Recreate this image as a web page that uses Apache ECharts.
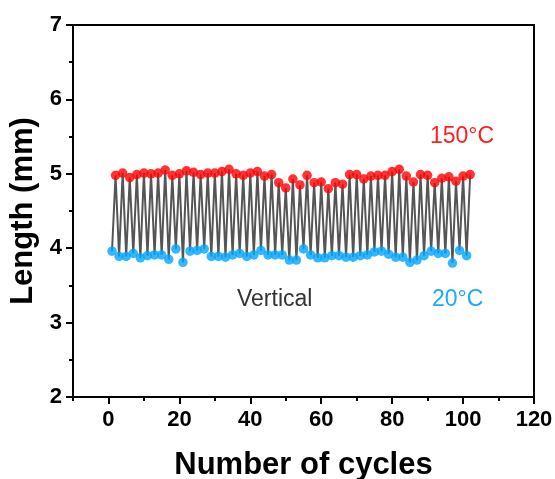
<!DOCTYPE html>
<html>
<head>
<meta charset="utf-8">
<script src="https://cdn.jsdelivr.net/npm/echarts@6/dist/echarts.min.js"></script>
<style>html,body{margin:0;padding:0;background:#fff}#c{width:555px;height:479px}</style>
</head>
<body>
<div id="c"></div>
<script>
// Cycle numbers (x) for each state
const lowCycles = [1,3,5,7,9,11,13,15,17,19,21,23,25,27,29,31,33,35,37,39,41,43,45,47,49,51,53,55,57,59,61,63,65,67,69,71,73,75,77,79,81,83,85,87,89,91,93,95,97,99,101];
const highCycles = [2,4,6,8,10,12,14,16,18,20,22,24,26,28,30,32,34,36,38,40,42,44,46,48,50,52,54,56,58,60,62,64,66,68,70,72,74,76,78,80,82,84,86,88,90,92,94,96,98,100,102];
// Length (mm) at 20°C
const lowLength = [3.96,3.89,3.89,3.93,3.87,3.90,3.91,3.91,3.85,3.99,3.81,3.96,3.97,3.99,3.89,3.89,3.88,3.91,3.93,3.89,3.91,3.97,3.91,3.91,3.91,3.84,3.84,3.99,3.91,3.87,3.87,3.90,3.90,3.88,3.88,3.90,3.91,3.95,3.96,3.92,3.88,3.88,3.81,3.84,3.90,3.96,3.93,3.93,3.80,3.97,3.90];
// Length (mm) at 150°C
const highLength = [4.98,5.01,4.95,4.99,5.01,5.00,5.01,5.05,4.98,5.00,5.04,5.02,4.99,5.01,5.01,5.03,5.06,5.00,4.98,5.01,5.03,4.97,4.99,4.88,4.81,4.93,4.85,4.98,4.88,4.89,4.80,4.88,4.86,4.99,4.99,4.93,4.97,4.98,4.98,5.03,5.06,4.97,4.89,4.99,4.98,4.88,4.94,4.96,4.90,4.97,4.99];
const xMajorTicks = [0,20,40,60,80,100,120];
const xMinorTicks = [-10,10,30,50,70,90,110];

const lowPts = lowCycles.map((c,i)=>[c,lowLength[i]]);
const highPts = highCycles.map((c,i)=>[c,highLength[i]]);
const zig = [];
for (let i=0;i<lowPts.length;i++){ zig.push(lowPts[i]); zig.push(highPts[i]); }

const FONT = '"Liberation Sans", Arial, sans-serif';
const chart = echarts.init(document.getElementById('c'), null, {renderer:'canvas'});
chart.setOption({
  animation:false,
  backgroundColor:'#fff',
  grid:{left:73, top:25, width:461, height:372, outerBoundsMode:'none', containLabel:false, show:true, borderColor:'#000', borderWidth:2, backgroundColor:'transparent'},
  xAxis:[{
    type:'value', position:'bottom', min:-10, max:120, interval:10,
    axisLine:{onZero:false, lineStyle:{color:'#000', width:2}},
    axisTick:{customValues:xMajorTicks, length:7, lineStyle:{color:'#000', width:2}},
    axisLabel:{customValues:xMajorTicks, margin:12, color:'#000', fontFamily:FONT, fontWeight:'bold', fontSize:22},
    splitLine:{show:false},
    name:'Number of cycles', nameLocation:'middle', nameGap:53,
    nameTextStyle:{color:'#000', fontFamily:FONT, fontWeight:'bold', fontSize:31}
  },{
    type:'value', position:'bottom', min:-10, max:120, interval:10,
    axisLine:{show:false, onZero:false},
    axisTick:{customValues:xMinorTicks, length:4, lineStyle:{color:'#000', width:2}},
    axisLabel:{show:false}, splitLine:{show:false}
  }],
  yAxis:{
    type:'value', position:'left', min:2, max:7, interval:1,
    axisLine:{show:true, onZero:false, lineStyle:{color:'#000', width:2}},
    axisTick:{show:true, length:7, lineStyle:{color:'#000', width:2}},
    minorTick:{show:true, splitNumber:2, length:4, lineStyle:{color:'#000', width:2}},
    axisLabel:{margin:11, color:'#000', fontFamily:FONT, fontWeight:'bold', fontSize:22},
    splitLine:{show:false},
    name:'Length (mm)', nameLocation:'middle', nameGap:33,
    nameTextStyle:{color:'#000', fontFamily:FONT, fontWeight:'bold', fontSize:31}
  },
  series:[{
    type:'line', data:zig, symbol:'none',
    lineStyle:{color:'#555', width:2}, z:2
  },{
    type:'scatter', data:highPts, symbolSize:9.5,
    itemStyle:{color:'#ff0000'}, z:3
  },{
    type:'scatter', data:lowPts, symbolSize:9.5,
    itemStyle:{color:'#00a6ff'}, z:3
  }],
  graphic:[
    {type:'text', x:430, y:137, style:{text:'150°C', fill:'#ff1f1f', font:'23px '+FONT, textVerticalAlign:'middle'}},
    {type:'text', x:237, y:300, style:{text:'Vertical', fill:'#333', font:'23px '+FONT, textVerticalAlign:'middle'}},
    {type:'text', x:432, y:300, style:{text:'20°C', fill:'#1fa8ff', font:'23px '+FONT, textVerticalAlign:'middle'}}
  ]
});
</script>
</body>
</html>
